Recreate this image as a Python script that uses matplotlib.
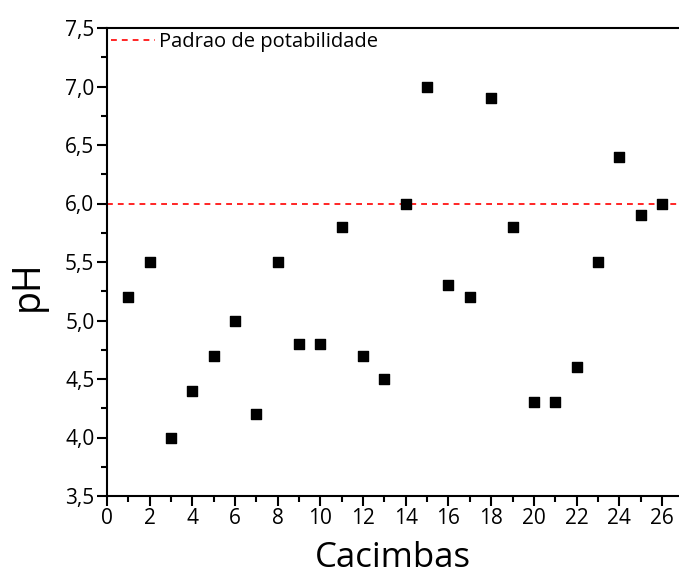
import matplotlib
matplotlib.use("Agg")
import matplotlib.pyplot as plt
from matplotlib.ticker import MultipleLocator, FuncFormatter

cacimbas = list(range(1, 27))
ph = [5.2, 5.5, 4.0, 4.4, 4.7, 5.0, 4.2, 5.5, 4.8, 4.8, 5.8, 4.7, 4.5, 6.0,
      7.0, 5.3, 5.2, 6.9, 5.8, 4.3, 4.3, 4.6, 5.5, 6.4, 5.9, 6.0]
padrao = 6.0
legend_label = "Padrao de potabilidade"

plt.rcParams['font.family'] = ['Open Sans', 'DejaVu Sans']

fig = plt.figure(figsize=(6.79, 5.8), dpi=100)
ax = fig.add_axes([107/679, 84/580, 1 - 107/679, 468/580])

ax.scatter(cacimbas, ph, marker='s', s=60, color='black', zorder=3)
ax.axhline(padrao, color='red', linestyle=(0, (3.5, 3)), linewidth=1.2, label=legend_label)

ax.set_xlim(0, 26.8)
ax.set_ylim(3.5, 7.5)
ax.xaxis.set_major_locator(MultipleLocator(2))
ax.xaxis.set_minor_locator(MultipleLocator(1))
ax.yaxis.set_major_locator(MultipleLocator(0.5))
ax.yaxis.set_minor_locator(MultipleLocator(0.25))
ax.yaxis.set_major_formatter(FuncFormatter(lambda v, p: f"{v:.1f}".replace('.', ',')))

for s in ['left', 'bottom', 'top']:
    ax.spines[s].set_linewidth(1.5)
ax.spines['right'].set_visible(False)

ax.tick_params(axis='both', which='major', direction='out', length=7, width=1.5,
               labelsize=15, pad=2)
ax.tick_params(axis='both', which='minor', direction='out', length=4, width=1.5)
ax.tick_params(top=False, which='both')

ax.set_xlabel("Cacimbas", fontsize=25, labelpad=8)
ax.set_ylabel("pH", fontsize=27)
ax.yaxis.set_label_coords(-0.105, 0.45)

leg = ax.legend(loc='upper left', frameon=False, fontsize=14.5, handlelength=2.2,
                handletextpad=0.2, borderaxespad=0.1, borderpad=0.1)

fig.savefig("out.png", dpi=100)
